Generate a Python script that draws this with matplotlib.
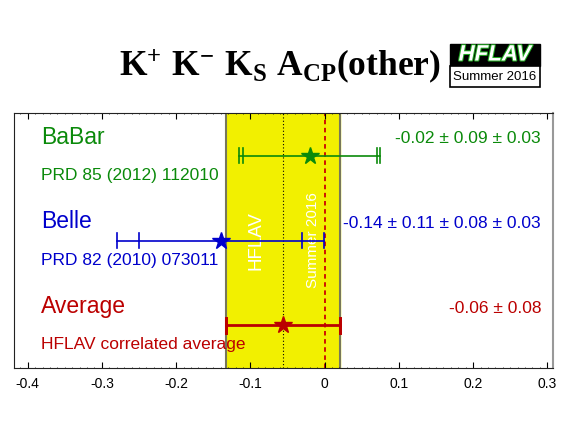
import numpy as np
import matplotlib.pyplot as plt
import matplotlib.patheffects as pe
from matplotlib.patches import Rectangle

plt.rcParams['font.family'] = ['Liberation Sans', 'DejaVu Sans']
plt.rcParams['mathtext.fontset'] = 'custom'
plt.rcParams['mathtext.rm'] = 'Liberation Serif:bold'
plt.rcParams['mathtext.it'] = 'Liberation Serif:bold'
plt.rcParams['mathtext.bf'] = 'Liberation Serif:bold'

# data
names = ['BaBar', 'Belle', 'Average']
refs = ['PRD 85 (2012) 112010', 'PRD 82 (2010) 073011', 'HFLAV correlated average']
values = [-0.02, -0.14, -0.056]
stat = [0.09, 0.11, 0.077]
syst = [[0.03], [0.08, 0.03], []]
value_text = ['-0.02 \u00b1 0.09 \u00b1 0.03', '-0.14 \u00b1 0.11 \u00b1 0.08 \u00b1 0.03', '-0.06 \u00b1 0.08']
colors = ['#0a8a0a', '#0000cc', '#bb0000']
rows = [3, 2, 1]
xticks = [-0.4, -0.3, -0.2, -0.1, 0, 0.1, 0.2, 0.3]

avg = values[2]
avg_err = stat[2]

fig = plt.figure(figsize=(5.67, 4.25), dpi=100)
ax = fig.add_axes([0.0252, 0.1348, 0.9506, 0.5986])
ax.set_xlim(-0.418, 0.308)
ax.set_ylim(0.5, 3.5)

# average band
ax.axvspan(avg - avg_err, avg + avg_err, color='#f2f000', zorder=0)
ax.axvline(avg - avg_err, color='#77775a', lw=1.5, zorder=1)
ax.axvline(avg + avg_err, color='#77775a', lw=1.5, zorder=1)
ax.axvline(avg, color='black', lw=0.8, ls=(0, (1, 2)), zorder=1)
ax.axvline(0, color='#cc0000', lw=1.3, ls=(0, (2.5, 2)), zorder=1)
ax.text(avg - 0.037, 2, 'HFLAV', color='white', fontsize=13.5, rotation=90,
        ha='center', va='center', zorder=2)
ax.text(avg + 0.041, 2, 'Summer 2016', color='white', fontsize=11, rotation=90,
        ha='center', va='center', zorder=2)

for i in range(3):
    y = rows[i]
    c = colors[i]
    tot = np.sqrt(stat[i] ** 2 + sum(s ** 2 for s in syst[i]))
    lw = 2 if i == 2 else 1.2
    ax.plot([values[i] - tot, values[i] + tot], [y, y], color=c, lw=lw, zorder=3)
    for x in [values[i] - tot, values[i] + tot, values[i] - stat[i], values[i] + stat[i]]:
        ax.plot([x, x], [y - 0.09, y + 0.09], color=c, lw=lw, zorder=3)
    ax.plot(values[i], y, marker='*', ms=13, color=c, mec=c, zorder=4)
    ax.text(-0.382, y + 0.22, names[i], color=c, fontsize=16.5, va='center', ha='left')
    ax.text(-0.382, y - 0.23, refs[i], color=c, fontsize=12.5, va='center', ha='left')
    ax.text(0.2915, y + 0.2, value_text[i], color=c, fontsize=12.5, va='center', ha='right')

ax.set_xticks(xticks)
ax.set_xticklabels(['%g' % t for t in xticks], fontsize=10)
ax.set_yticks([])
ax.tick_params(axis='x', direction='in', length=4, width=0.8, top=True, pad=7)
ax.set_xticks(np.arange(-0.41, 0.31, 0.01), minor=True)
ax.tick_params(axis='x', which='minor', direction='in', length=1, width=0.5, top=True)
for s in ['left', 'bottom', 'top']:
    ax.spines[s].set_color('#222222')
ax.spines['right'].set_color('#999999')
ax.spines['right'].set_linewidth(1.5)

# title
fig.text(0.494, 0.822, r'$\mathrm{K^{+}\ K^{-}\ K_{S}\ A_{CP}(other)}$', fontsize=25.5,
         ha='center', va='baseline')

# HFLAV logo
fig.patches.append(Rectangle((450 / 567, 1 - 66 / 425), 90 / 567, 22 / 425,
                             transform=fig.transFigure, facecolor='black', edgecolor='black'))
fig.patches.append(Rectangle((450 / 567, 1 - 87 / 425), 90 / 567, 21 / 425,
                             transform=fig.transFigure, facecolor='white', edgecolor='black', lw=1.2))
t = fig.text(495 / 567, 1 - 55 / 425, 'HFLAV', color='white', fontsize=16, fontweight='bold',
             style='italic', ha='center', va='center')
t.set_path_effects([pe.withStroke(linewidth=1.5, foreground='#22aa22')])
fig.text(495 / 567, 1 - 77 / 425, 'Summer 2016', color='black', fontsize=9.5,
         ha='center', va='center')

plt.savefig('out.png', dpi=100)
